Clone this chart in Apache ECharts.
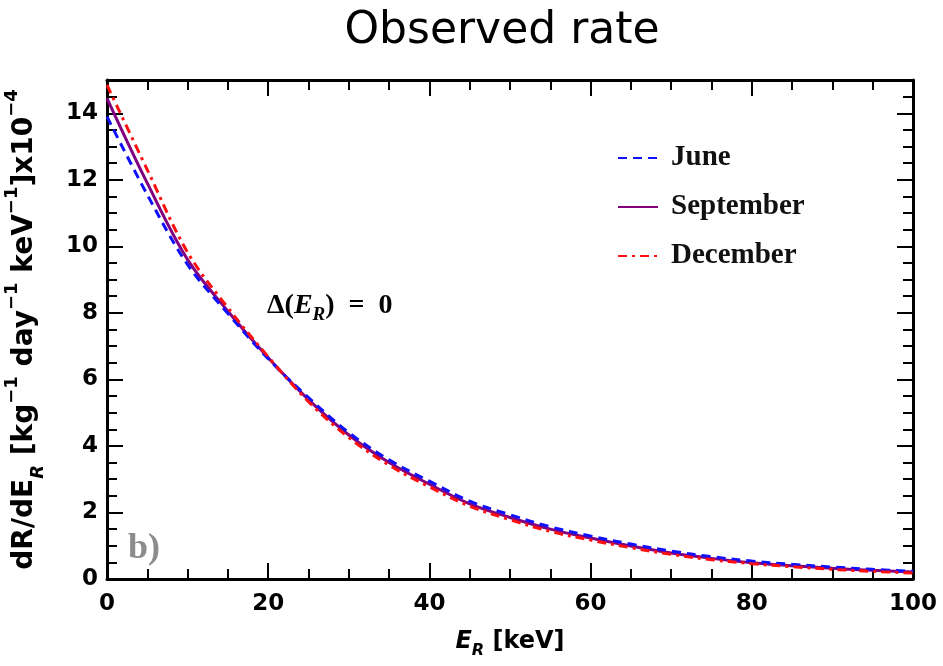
<!DOCTYPE html>
<html>
<head>
<meta charset="utf-8">
<script src="https://cdn.jsdelivr.net/npm/echarts@6/dist/echarts.min.js"></script>
<style>
  html, body { margin: 0; padding: 0; background: #fff; }
  #chart { width: 943px; height: 666px; }
</style>
</head>
<body>
<div id="chart"></div>
<script>
// Recoil energy grid (keV)
const energies = [0, 5, 10, 15, 20, 25, 30, 35, 40, 45, 50, 55, 60, 65, 70, 75, 80, 85, 90, 95, 100];
// dR/dE_R in units of 1e-4 kg^-1 day^-1 keV^-1
const juneRate = [13.9, 11.55, 9.45, 7.98, 6.62, 5.45, 4.4, 3.58, 2.94, 2.34, 1.93, 1.57, 1.29, 1.05, 0.84, 0.67, 0.54, 0.44, 0.36, 0.29, 0.23];
const septemberRate = [14.45, 11.9, 9.6, 8.05, 6.65, 5.39, 4.33, 3.5, 2.85, 2.26, 1.85, 1.5, 1.23, 0.99, 0.78, 0.62, 0.49, 0.40, 0.32, 0.26, 0.21];
const decemberRate = [14.85, 12.3, 9.82, 8.15, 6.68, 5.33, 4.25, 3.42, 2.77, 2.19, 1.78, 1.43, 1.17, 0.94, 0.74, 0.58, 0.46, 0.37, 0.29, 0.23, 0.18];
const seriesNames = ['June', 'September', 'December'];

const pair = (ys) => energies.map((e, i) => [e, ys[i]]);

const chart = echarts.init(document.getElementById('chart'), null, { renderer: 'canvas' });

const tickFont = { fontFamily: 'DejaVu Sans', fontWeight: 'bold', fontSize: 23, color: '#000' };
const serifBold = 'Liberation Serif';

const xBase = {
  type: 'value', min: 0, max: 100, interval: 20,
  axisLine: { show: true, onZero: false, lineStyle: { color: '#000', width: 3 } },
  axisTick: { show: true, inside: true, length: 16, lineStyle: { color: '#000', width: 2 } },
  minorTick: { show: true, splitNumber: 4, length: 10, lineStyle: { color: '#000', width: 2 } },
  splitLine: { show: false }, minorSplitLine: { show: false }
};
const yBase = {
  type: 'value', min: 0, max: 15, interval: 2,
  axisLine: { show: true, onZero: false, lineStyle: { color: '#000', width: 3 } },
  axisTick: { show: true, inside: true, length: 16, lineStyle: { color: '#000', width: 2 } },
  minorTick: { show: true, splitNumber: 4, length: 10, lineStyle: { color: '#000', width: 2 } },
  splitLine: { show: false }, minorSplitLine: { show: false }
};

chart.setOption({
  animation: false,
  backgroundColor: '#fff',
  title: {
    text: 'Observed rate', left: 497, top: 5, textAlign: 'center',
    textStyle: { fontFamily: 'DejaVu Sans', fontWeight: 'normal', fontSize: 44, color: '#000' }
  },
  grid: { left: 107, right: 30, top: 80, bottom: 87, containLabel: false, outerBoundsMode: 'none' },
  legend: {
    orient: 'vertical',
    left: 612, top: 136,
    itemWidth: 40, itemHeight: 14, itemGap: 15,
    data: seriesNames,
    itemStyle: { opacity: 0 },
    textStyle: { fontFamily: serifBold, fontWeight: 'bold', fontSize: 29, color: '#111', padding: [0, 0, 0, 8], lineHeight: 34 }
  },
  xAxis: [
    Object.assign({}, xBase, {
      position: 'bottom',
      axisLabel: Object.assign({ margin: 14 }, tickFont),
      name: '{e|E}{r|R}{k| [keV]}',
      nameLocation: 'middle', nameGap: 46,
      nameTextStyle: {
        rich: {
          e: { fontFamily: 'DejaVu Sans', fontWeight: 'bold', fontStyle: 'italic', fontSize: 24, color: '#000', lineHeight: 34 },
          r: { fontFamily: 'DejaVu Sans', fontWeight: 'bold', fontStyle: 'italic', fontSize: 16, color: '#000', verticalAlign: 'bottom', lineHeight: 34 },
          k: { fontFamily: 'DejaVu Sans', fontWeight: 'bold', fontSize: 24, color: '#000', lineHeight: 34 }
        }
      }
    }),
    Object.assign({}, xBase, { position: 'top', axisLabel: { show: false } })
  ],
  yAxis: [
    Object.assign({}, yBase, {
      position: 'left',
      axisLabel: Object.assign({ margin: 9, showMaxLabel: false }, tickFont),
      name: '{b|dR/dE}{s|R}{b| [kg}{p|−1}{b| day}{p|−1}{b| keV}{p|−1}{b|]x10}{p|−4}',
      nameLocation: 'middle', nameRotate: 90, nameGap: 60,
      nameTextStyle: {
        rich: {
          b: { fontFamily: 'DejaVu Sans', fontWeight: 'bold', fontSize: 28, color: '#000', lineHeight: 44 },
          s: { fontFamily: 'DejaVu Sans', fontWeight: 'bold', fontStyle: 'italic', fontSize: 18, color: '#000', verticalAlign: 'bottom', lineHeight: 40 },
          p: { fontFamily: 'DejaVu Sans', fontWeight: 'bold', fontSize: 18, color: '#000', verticalAlign: 'top', lineHeight: 44 }
        }
      }
    }),
    Object.assign({}, yBase, { position: 'right', axisLabel: { show: false } })
  ],
  series: [
    {
      name: 'June', type: 'line', xAxisIndex: 0, yAxisIndex: 0,
      data: pair(juneRate), smooth: 0.35, showSymbol: false, symbol: 'none',
      color: '#1010ff',
      lineStyle: { color: '#1010ff', width: 3, type: [9, 6] }, z: 3
    },
    {
      name: 'September', type: 'line', xAxisIndex: 0, yAxisIndex: 0,
      data: pair(septemberRate), smooth: 0.35, showSymbol: false, symbol: 'none',
      color: '#800080',
      lineStyle: { color: '#800080', width: 3, type: 'solid' }, z: 2
    },
    {
      name: 'December', type: 'line', xAxisIndex: 0, yAxisIndex: 0,
      data: pair(decemberRate), smooth: 0.35, showSymbol: false, symbol: 'none',
      color: '#ff1010',
      lineStyle: { color: '#ff1010', width: 3, type: [9, 5, 3, 5] }, z: 4
    }
  ],
  graphic: [
    {
      type: 'text', left: 267, top: 292,
      style: {
        text: '{a|Δ(}{e|E}{r|R}{a|)  =  0}',
        rich: {
          a: { fontFamily: serifBold, fontWeight: 'bold', fontSize: 28, fill: '#000', lineHeight: 38 },
          e: { fontFamily: serifBold, fontWeight: 'bold', fontStyle: 'italic', fontSize: 28, fill: '#000', lineHeight: 38 },
          r: { fontFamily: serifBold, fontWeight: 'bold', fontStyle: 'italic', fontSize: 19, fill: '#000', verticalAlign: 'bottom', lineHeight: 38 }
        }
      }
    },
    {
      type: 'text', left: 128, top: 531,
      style: { text: 'b)', font: 'bold 36px "Liberation Serif"', fill: '#8c8c8c' }
    }
  ]
});
</script>
</body>
</html>
